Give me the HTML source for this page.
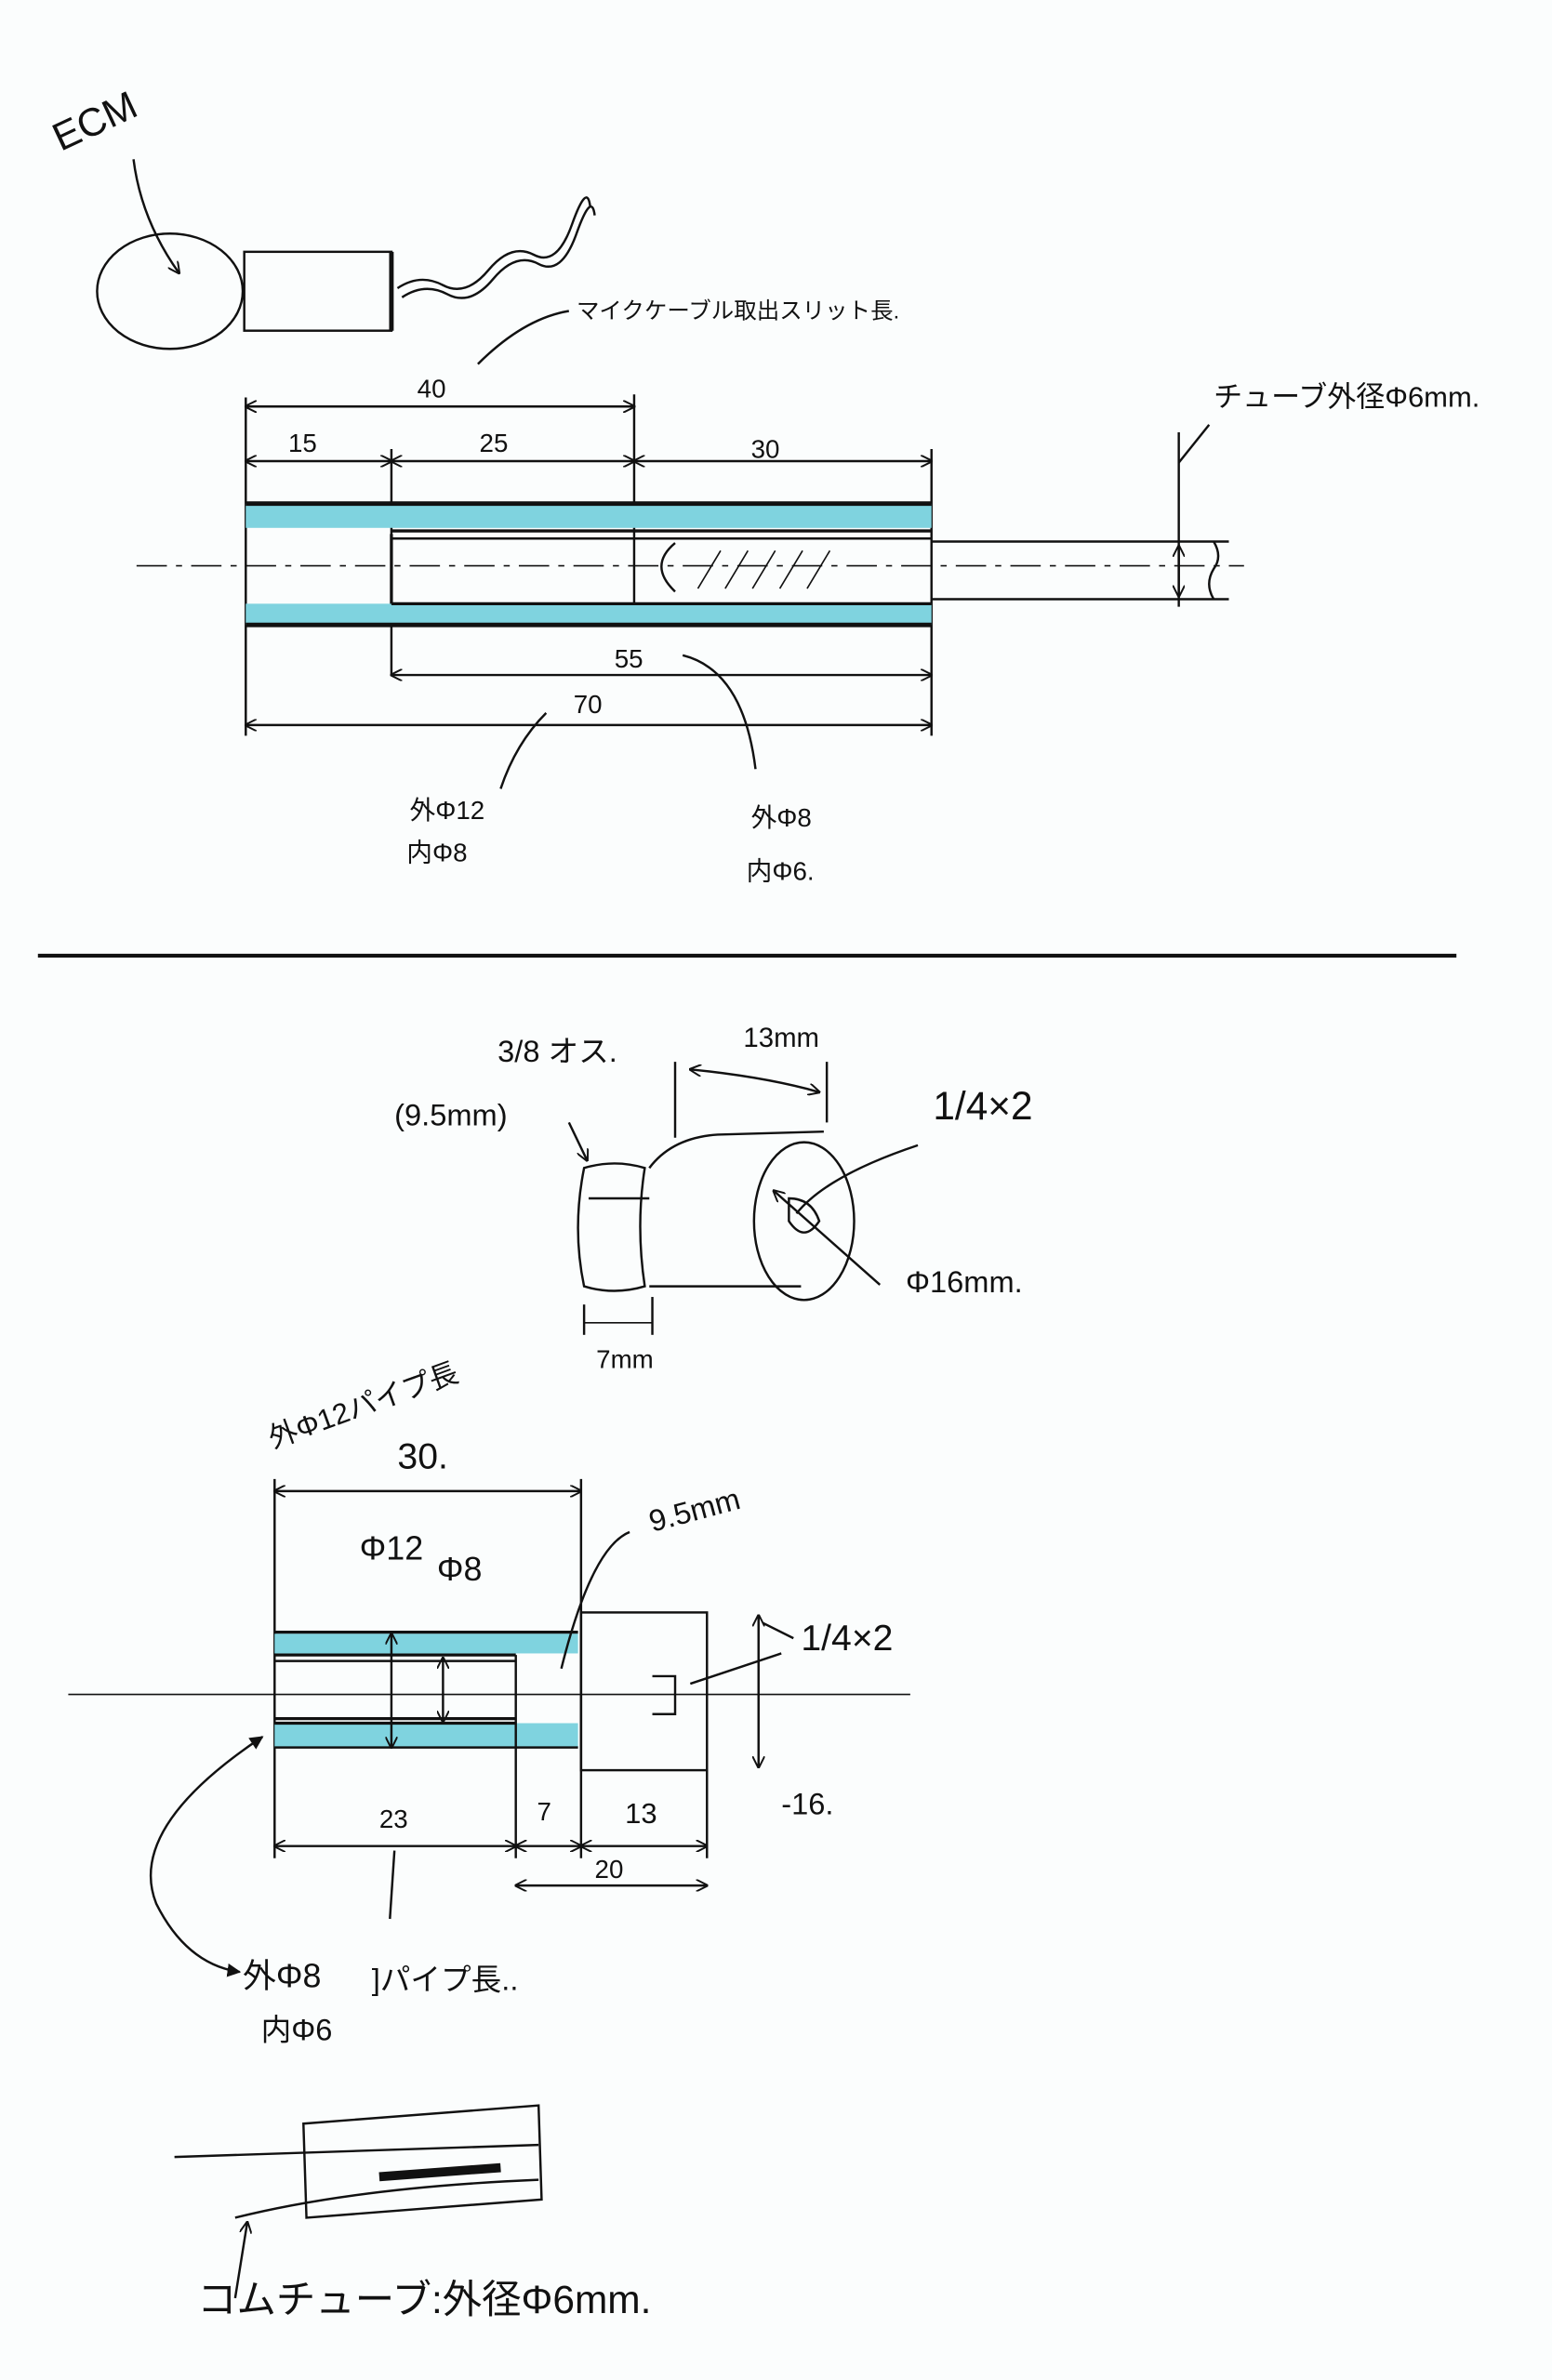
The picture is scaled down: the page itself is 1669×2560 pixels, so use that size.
<!DOCTYPE html>
<html><head><meta charset="utf-8"><style>
html,body{margin:0;padding:0;background:#fdfefe;}
svg{display:block}
text{font-family:"Liberation Sans","Noto Sans CJK JP",sans-serif;fill:#111;}
</style></head><body>
<svg width="1669" height="2560" viewBox="0 0 1023 1569" preserveAspectRatio="none" xmlns="http://www.w3.org/2000/svg">
<defs>
<marker id="a" viewBox="0 0 10 10" refX="9" refY="5" markerWidth="8" markerHeight="8" orient="auto-start-reverse" markerUnits="userSpaceOnUse"><path d="M0 0 L10 5 L0 10" fill="none" stroke="#111" stroke-width="1.5"/></marker>
<marker id="f" viewBox="0 0 10 10" refX="9" refY="5" markerWidth="9" markerHeight="9" orient="auto-start-reverse" markerUnits="userSpaceOnUse"><path d="M0 0 L10 5 L0 10z" fill="#111"/></marker>
</defs>
<rect width="1023" height="1569" fill="#fbfdfd"/>
<g stroke="#111" fill="none" stroke-width="1.5">
<!-- ECM -->
<ellipse cx="112" cy="192" rx="48" ry="38"/>
<rect x="161" y="166" width="97" height="52"/>
<line x1="258" y1="166" x2="258" y2="218" stroke-width="3"/>
<path d="M262 190 q15 -10 30 -2 t30 -10 t30 -10 t25 -20 t12 -12"/>
<path d="M265 196 q15 -10 30 -2 t30 -10 t30 -10 t25 -20 t12 -12"/>
<path d="M88 105 q5 40 30 75" marker-end="url(#a)"/>
<path d="M315 240 q30 -30 60 -35"/>
<!-- dims top -->
<line x1="162" y1="262" x2="162" y2="485"/>
<line x1="258" y1="296" x2="258" y2="445"/>
<line x1="418" y1="260" x2="418" y2="410"/>
<line x1="614" y1="296" x2="614" y2="485"/>
<line x1="162" y1="268" x2="418" y2="268" marker-start="url(#a)" marker-end="url(#a)"/>
<line x1="162" y1="304" x2="258" y2="304" marker-start="url(#a)" marker-end="url(#a)"/>
<line x1="258" y1="304" x2="418" y2="304" marker-start="url(#a)" marker-end="url(#a)"/>
<line x1="418" y1="304" x2="614" y2="304" marker-start="url(#a)" marker-end="url(#a)"/>
<line x1="258" y1="445" x2="614" y2="445" marker-start="url(#a)" marker-end="url(#a)"/>
<line x1="162" y1="478" x2="614" y2="478" marker-start="url(#a)" marker-end="url(#a)"/>
<!-- tube -->
<rect x="162" y="332" width="452" height="16" fill="#7fd3df" stroke="none"/>
<rect x="162" y="398" width="452" height="14" fill="#7fd3df" stroke="none"/>
<line x1="162" y1="332" x2="614" y2="332" stroke-width="3"/>
<line x1="162" y1="412" x2="614" y2="412" stroke-width="3"/>
<line x1="258" y1="350" x2="614" y2="350" stroke-width="2"/>
<line x1="258" y1="355" x2="614" y2="355"/>
<line x1="258" y1="398" x2="614" y2="398" stroke-width="2"/>
<line x1="258" y1="352" x2="258" y2="398" stroke-width="2"/>
<line x1="614" y1="357" x2="810" y2="357"/>
<line x1="614" y1="395" x2="810" y2="395"/>
<line x1="90" y1="373" x2="820" y2="373" stroke-dasharray="20 6 4 6" stroke-width="1"/>
<path d="M445 358 q-18 15 0 32" />
<path d="M460 388 l15 -25 M478 388 l15 -25 M496 388 l15 -25 M514 388 l15 -25 M532 388 l15 -25" stroke-width="1"/>
<line x1="777" y1="285" x2="777" y2="400"/>
<line x1="777" y1="360" x2="777" y2="393" marker-start="url(#a)" marker-end="url(#a)"/>
<path d="M777 305 l20 -25"/>
<path d="M800 357 q6 10 0 18 q-6 10 0 20"/>
<path d="M330 520 q10 -30 30 -50"/>
<path d="M450 432 q40 10 48 75"/>
<!-- separator -->
<line x1="25" y1="630" x2="960" y2="630" stroke-width="2.5"/>
<!-- nut -->
<path d="M385 770 q-8 40 0 78 q20 6 40 0 q-6 -40 0 -78 q-20 -6 -40 0z"/>
<path d="M428 770 q15 -20 45 -22 l70 -2"/>
<path d="M428 848 l100 0"/>
<line x1="388" y1="790" x2="428" y2="790"/>
<ellipse cx="530" cy="805" rx="33" ry="52"/>
<path d="M520 790 q15 0 20 15 q-10 15 -20 0z"/>
<path d="M605 755 q-60 20 -80 45"/>
<path d="M510 785 l70 62" marker-start="url(#a)"/>
<path d="M445 700 l0 50 M545 700 l0 40"/>
<path d="M455 705 q50 5 85 15" marker-start="url(#a)" marker-end="url(#a)"/>
<path d="M375 740 l12 25" marker-end="url(#a)"/>
<line x1="385" y1="860" x2="385" y2="880"/><line x1="430" y1="855" x2="430" y2="880"/>
<line x1="385" y1="872" x2="430" y2="872" stroke-width="1"/>
<!-- lower pipe -->
<line x1="181" y1="975" x2="181" y2="1225"/>
<line x1="383" y1="975" x2="383" y2="1225"/>
<line x1="181" y1="983" x2="383" y2="983" marker-start="url(#a)" marker-end="url(#a)"/>
<rect x="181" y="1077" width="200" height="13" fill="#7fd3df" stroke="none"/>
<rect x="181" y="1136" width="200" height="16" fill="#7fd3df" stroke="none"/>
<line x1="181" y1="1076" x2="381" y2="1076" stroke-width="2"/>
<line x1="181" y1="1091" x2="340" y2="1091" stroke-width="2"/>
<line x1="181" y1="1095" x2="340" y2="1095"/>
<line x1="181" y1="1133" x2="340" y2="1133" stroke-width="2"/>
<line x1="181" y1="1136" x2="340" y2="1136" stroke-width="2"/>
<line x1="181" y1="1152" x2="381" y2="1152"/>
<line x1="340" y1="1091" x2="340" y2="1225"/>
<rect x="383" y="1063" width="83" height="104"/>
<line x1="466" y1="1167" x2="466" y2="1225"/>
<line x1="45" y1="1117" x2="600" y2="1117" stroke-width="1"/>
<line x1="258" y1="1077" x2="258" y2="1152" marker-start="url(#a)" marker-end="url(#a)"/>
<line x1="292" y1="1093" x2="292" y2="1135" marker-start="url(#a)" marker-end="url(#a)"/>
<line x1="500" y1="1065" x2="500" y2="1165" marker-start="url(#a)" marker-end="url(#a)"/>
<path d="M430 1105 l15 0 l0 25 l-15 0"/>
<path d="M455 1110 l60 -20"/>
<path d="M523 1080 l-20 -10"/>
<path d="M370 1100 q20 -80 45 -90"/>
<line x1="181" y1="1217" x2="340" y2="1217" marker-start="url(#a)" marker-end="url(#a)"/>
<line x1="340" y1="1217" x2="383" y2="1217" marker-start="url(#a)" marker-end="url(#a)"/>
<line x1="383" y1="1217" x2="466" y2="1217" marker-start="url(#a)" marker-end="url(#a)"/>
<line x1="340" y1="1243" x2="466" y2="1243" marker-start="url(#a)" marker-end="url(#a)"/>
<path d="M158 1300 q-35 -5 -55 -45 q-20 -50 70 -110" marker-start="url(#f)" marker-end="url(#f)"/>
<path d="M260 1220 l-3 45"/>
<!-- bottom sketch -->
<path d="M115 1422 l240 -8"/>
<path d="M200 1400 l155 -12 l2 62 l-155 12z"/>
<path d="M155 1462 q80 -20 200 -25"/>
<path d="M250 1435 l80 -6" stroke-width="6"/>
<path d="M155 1515 l8 -50" marker-end="url(#a)"/>
</g>
<g font-size="17">
<text x="40" y="100" font-size="26" transform="rotate(-25 40 100)">ECM</text>
<text x="380" y="210" font-size="15">マイクケーブル取出スリット長.</text>
<text x="275" y="262">40</text>
<text x="190" y="298">15</text>
<text x="316" y="298">25</text>
<text x="495" y="302">30</text>
<text x="405" y="440">55</text>
<text x="378" y="470">70</text>
<text x="800" y="268" font-size="19">チューブ外径Φ6mm.</text>
<text x="270" y="540">外Φ12</text>
<text x="268" y="568">内Φ8</text>
<text x="495" y="545">外Φ8</text>
<text x="492" y="580">内Φ6.</text>
<text x="328" y="700" font-size="20">3/8 オス.</text>
<text x="260" y="742" font-size="20">(9.5mm)</text>
<text x="490" y="690" font-size="18">13mm</text>
<text x="615" y="738" font-size="26">1/4×2</text>
<text x="597" y="852" font-size="20">Φ16mm.</text>
<text x="393" y="902" font-size="17">7mm</text>
<text x="180" y="955" font-size="19" transform="rotate(-20 180 955)">外Φ12パイプ長</text>
<text x="262" y="968" font-size="24">30.</text>
<text x="237" y="1028" font-size="22">Φ12</text>
<text x="288" y="1042" font-size="22">Φ8</text>
<text x="430" y="1010" font-size="20" transform="rotate(-15 430 1010)">9.5mm</text>
<text x="528" y="1088" font-size="24">1/4×2</text>
<text x="515" y="1196" font-size="20">-16.</text>
<text x="250" y="1205">23</text>
<text x="354" y="1200">7</text>
<text x="412" y="1202" font-size="19">13</text>
<text x="392" y="1238">20</text>
<text x="160" y="1310" font-size="22">外Φ8</text>
<text x="172" y="1345" font-size="20">内Φ6</text>
<text x="245" y="1312" font-size="20">]パイプ長..</text>
<text x="130" y="1525" font-size="26">コムチューブ:外径Φ6mm.</text>
</g>
</svg>
</body></html>
